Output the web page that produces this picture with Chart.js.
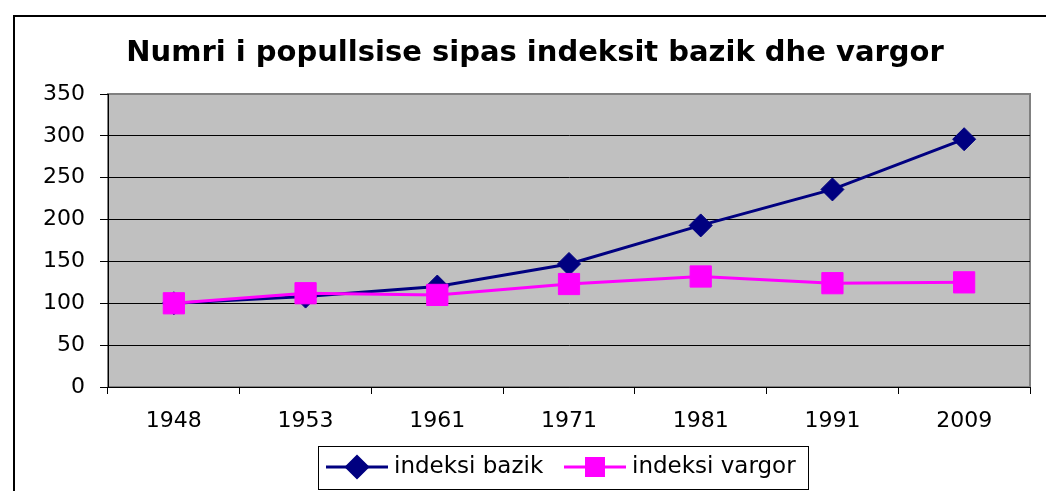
<!DOCTYPE html>
<html>
<head>
<meta charset="utf-8">
<script src="https://cdn.jsdelivr.net/npm/chart.js@4/dist/chart.umd.min.js"></script>
<style>
  html, body { margin: 0; padding: 0; background: #fff; }
  #wrap { width: 1046px; height: 491px; position: relative; }
</style>
</head>
<body>
<div id="wrap"><canvas id="chart" width="1046" height="491"></canvas></div>
<script>
const titleText = 'Numri i popullsise sipas indeksit bazik dhe vargor';
const years = ['1948', '1953', '1961', '1971', '1981', '1991', '2009'];
const indeksiBazik = [100, 108, 120, 147, 193, 236, 296];
const indeksiVargor = [100, 112, 110, 123, 132, 124, 125];
const yTicks = [0, 50, 100, 150, 200, 250, 300, 350];

const FONT = '"DejaVu Sans", Arial, sans-serif';

// frame, grey plot area, title and the boxed legend
const decor = {
  id: 'decor',
  beforeDraw(chart) {
    const ctx = chart.ctx;
    const a = chart.chartArea;
    ctx.save();
    ctx.fillStyle = '#fff';
    ctx.fillRect(0, 0, chart.width, chart.height);
    ctx.strokeStyle = '#000';
    ctx.lineWidth = 2;
    ctx.beginPath();
    ctx.moveTo(14, chart.height + 2);
    ctx.lineTo(14, 16);
    ctx.lineTo(chart.width + 2, 16);
    ctx.stroke();
    ctx.fillStyle = '#c0c0c0';
    ctx.fillRect(a.left, a.top, a.right - a.left, a.bottom - a.top);
    ctx.strokeStyle = '#808080';
    ctx.lineWidth = 2;
    ctx.strokeRect(a.left, a.top, a.right - a.left, a.bottom - a.top);
    ctx.fillStyle = '#000';
    ctx.font = 'bold 29px ' + FONT;
    ctx.textAlign = 'center';
    ctx.textBaseline = 'middle';
    ctx.fillText(titleText, 535, 53);
    ctx.restore();
  },
  afterDraw(chart) {
    const ctx = chart.ctx;
    ctx.save();
    ctx.fillStyle = '#fff';
    ctx.fillRect(318, 446, 490, 43);
    ctx.strokeStyle = '#000';
    ctx.lineWidth = 1;
    ctx.strokeRect(318.5, 446.5, 490, 43);
    const items = [
      {x: 326, ds: chart.data.datasets[0]},
      {x: 564, ds: chart.data.datasets[1]}
    ];
    ctx.font = '23px ' + FONT;
    ctx.textBaseline = 'middle';
    ctx.textAlign = 'left';
    items.forEach(it => {
      const y = 467;
      ctx.strokeStyle = it.ds.borderColor;
      ctx.lineWidth = 3;
      ctx.beginPath();
      ctx.moveTo(it.x, y);
      ctx.lineTo(it.x + 62, y);
      ctx.stroke();
      Chart.helpers.drawPoint(ctx, {
        pointStyle: it.ds.pointStyle,
        radius: it.ds.pointStyle === 'rect' ? 12 : 10.5,
        rotation: 0,
        borderWidth: 1
      }, it.x + 31, y);
      ctx.fillStyle = it.ds.borderColor;
      ctx.fill();
      ctx.fillStyle = '#000';
      ctx.fillText(it.ds.label, it.x + 68, y);
    });
    ctx.restore();
  }
};

new Chart(document.getElementById('chart'), {
  type: 'line',
  data: {
    labels: years,
    datasets: [
      {
        label: 'indeksi bazik',
        data: indeksiBazik,
        order: 1,
        borderColor: '#000080',
        backgroundColor: '#000080',
        borderWidth: 3,
        pointStyle: 'rectRot',
        pointRadius: 11.5,
        pointHoverRadius: 11.5,
        pointBorderWidth: 1,
        tension: 0
      },
      {
        label: 'indeksi vargor',
        data: indeksiVargor,
        order: 0,
        borderColor: '#ff00ff',
        backgroundColor: '#ff00ff',
        borderWidth: 3,
        pointStyle: 'rect',
        pointRadius: 15,
        pointHoverRadius: 15,
        pointBorderWidth: 1,
        tension: 0
      }
    ]
  },
  options: {
    responsive: false,
    animation: false,
    layout: { padding: { left: 0, right: 9, top: 94, bottom: 0 } },
    plugins: {
      legend: { display: false },
      title: { display: false },
      tooltip: { enabled: false }
    },
    scales: {
      x: {
        offset: true,
        afterFit(scale) { scale.height = 104; },
        grid: {
          offset: true,
          drawOnChartArea: false,
          color: '#000',
          tickLength: 7,
          tickColor: '#000'
        },
        border: { color: '#000', width: 1 },
        ticks: {
          color: '#000',
          font: { family: FONT, size: 22 },
          padding: 14,
          maxRotation: 0
        }
      },
      y: {
        min: 0,
        max: 350,
        afterFit(scale) { scale.width = 108; },
        afterBuildTicks(scale) { scale.ticks = yTicks.map(v => ({value: v})); },
        grid: {
          color: ctx => (ctx.tick && ctx.tick.value === 350 ? 'rgba(0,0,0,0)' : '#000'),
          tickColor: '#000',
          tickLength: 8,
          lineWidth: 1
        },
        border: { color: '#000', width: 1 },
        ticks: {
          color: '#000',
          font: { family: FONT, size: 22 },
          padding: 15
        }
      }
    }
  },
  plugins: [decor]
});
</script>
</body>
</html>
